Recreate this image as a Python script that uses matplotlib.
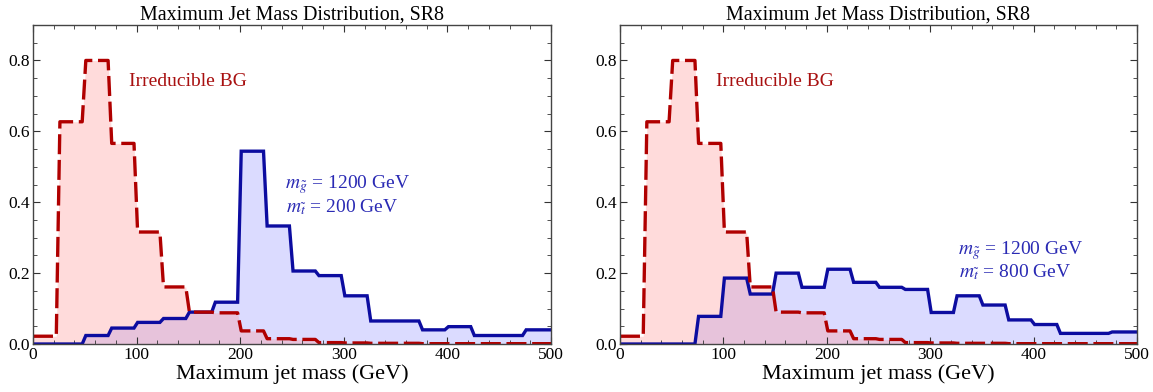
import numpy as np
import matplotlib
matplotlib.use("Agg")
import matplotlib.pyplot as plt
from matplotlib.ticker import MultipleLocator

plt.rcParams["font.family"] = ["Liberation Serif", "DejaVu Serif"]
plt.rcParams["mathtext.fontset"] = "stix"

# bin edges (GeV) and normalised counts per 25 GeV bin
bin_edges = np.arange(0, 525, 25)

irreducible_bg = [0.022, 0.627, 0.800, 0.566, 0.316, 0.161, 0.090, 0.088, 0.037, 0.015,
                  0.013, 0.004, 0.003, 0.002, 0.002, 0.001, 0.001, 0.001, 0.001, 0.001]

signal_200 = [0.0, 0.0, 0.024, 0.045, 0.061, 0.072, 0.090, 0.118, 0.544, 0.333,
              0.206, 0.193, 0.136, 0.065, 0.065, 0.040, 0.049, 0.024, 0.024, 0.040]

signal_800 = [0.0, 0.0, 0.0, 0.078, 0.186, 0.141, 0.200, 0.160, 0.211, 0.174,
              0.160, 0.154, 0.089, 0.136, 0.110, 0.068, 0.055, 0.030, 0.030, 0.034]

panels = [
    (signal_200, "1200", "200", (243, 0.45)),
    (signal_800, "1200", "800", (327, 0.265)),
]

RED_LINE = "#b00000"
BLUE_LINE = "#0c0ca0"


def step_path(edges, values, d0=1.0, d1=2.5):
    # slightly slanted steps, like the original plotting tool
    xs, ys = [], []
    n = len(values)
    for i, v in enumerate(values):
        lo = edges[i] + (d0 if i > 0 else 0)
        hi = edges[i + 1] - (d1 if i < n - 1 else 0)
        xs += [lo, hi]
        ys += [v, v]
    return np.array(xs), np.array(ys)


fig = plt.figure(figsize=(11.53, 3.92), dpi=100)
axes = [fig.add_axes([0.0286, 0.1224, 0.4493, 0.8138]),
        fig.add_axes([0.5377, 0.1224, 0.4484, 0.8138])]

xb, yb = step_path(bin_edges, irreducible_bg)

for ax, (sig, mg, mt, pos) in zip(axes, panels):
    xs, ys = step_path(bin_edges, sig)
    ax.fill_between(xs, 0, ys, color="#8080ff", alpha=0.28, lw=0)
    ax.plot(xs, ys, color=BLUE_LINE, lw=2.4, solid_joinstyle="miter")
    ax.fill_between(xb, 0, yb, color="#ff9999", alpha=0.35, lw=0)
    ax.plot(xb, yb, color=RED_LINE, lw=2.4, dashes=(6.0, 1.7))

    ax.set_xlim(0, 500)
    ax.set_ylim(0, 0.9)
    ax.xaxis.set_major_locator(MultipleLocator(100))
    ax.xaxis.set_minor_locator(MultipleLocator(20))
    ax.yaxis.set_major_locator(MultipleLocator(0.2))
    ax.yaxis.set_minor_locator(MultipleLocator(0.05))
    ax.yaxis.set_major_formatter(plt.FormatStrFormatter("%.1f"))
    ax.tick_params(which="both", direction="in", top=True, right=True,
                   labelsize=12.5, color="#333333", pad=2)
    ax.tick_params(which="major", length=5, width=0.8)
    ax.tick_params(which="minor", length=3, width=0.6)
    for s in ax.spines.values():
        s.set_color("#444444")
        s.set_linewidth(1.0)

    ax.set_title("Maximum Jet Mass Distribution, SR8", fontsize=14.4, pad=2)
    ax.set_xlabel("Maximum jet mass (GeV)", fontsize=16, labelpad=1)

    ax.text(93, 0.74, "Irreducible BG", color="#a81010", fontsize=14,
            va="center", ha="left")
    ax.text(pos[0], pos[1], r"$m_{\tilde{g}}$ = %s GeV" % mg, color="#2a2ab4",
            fontsize=14, va="center", ha="left")
    ax.text(pos[0] + 1, pos[1] - 0.063, r"$m_{\tilde{t}}$ = %s GeV" % mt, color="#2a2ab4",
            fontsize=14, va="center", ha="left")

fig.savefig("out.png", dpi=100)
